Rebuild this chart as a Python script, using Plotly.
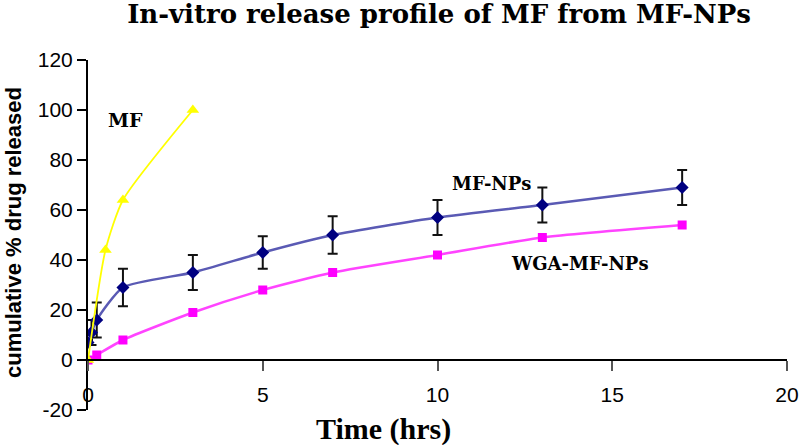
import plotly.graph_objects as go

# ---- data ----
mf_time = [0, 0.5, 1, 3]
mf_release = [0, 44, 64, 100]

np_time = [0, 0.1, 0.25, 1, 3, 5, 7, 10, 13, 17]
np_release = [7, 11, 16, 29, 35, 43, 50, 57, 62, 69]
np_error = [1, 5, 7, 7.5, 7, 6.5, 7.5, 7, 7, 7]

wga_time = [0, 0.25, 1, 3, 5, 7, 10, 13, 17]
wga_release = [0, 2, 8, 19, 28, 35, 42, 49, 54]

x_ticks = [0, 5, 10, 15, 20]
y_ticks = [-20, 0, 20, 40, 60, 80, 100, 120]

W, H = 799, 445
L, R, T, B = 88, 12, 60, 35

fig = go.Figure()

fig.add_trace(go.Scatter(
    x=wga_time, y=wga_release, mode="lines+markers", name="WGA-MF-NPs",
    line=dict(color="#ff44ff", width=2.5, shape="spline", smoothing=0.6),
    marker=dict(symbol="square", size=9, color="#ff00ff"),
))
fig.add_trace(go.Scatter(
    x=np_time, y=np_release, mode="lines+markers", name="MF-NPs",
    line=dict(color="#5a5ab4", width=2.5, shape="spline", smoothing=0.6),
    marker=dict(symbol="diamond", size=10, color="#000080"),
    error_y=dict(type="data", array=np_error, visible=True, color="#111111", thickness=2, width=5),
))
fig.add_trace(go.Scatter(
    x=mf_time, y=mf_release, mode="lines+markers", name="MF",
    line=dict(color="#ffff00", width=1.8, shape="spline", smoothing=0.6),
    marker=dict(symbol="triangle-up", size=11, color="#ffff00"),
))

serif_lbl = "DejaVu Serif"
fig.update_layout(
    width=W, height=H,
    margin=dict(l=L, r=R, t=T, b=B, autoexpand=False),
    paper_bgcolor="white", plot_bgcolor="white",
    showlegend=False,
    title=dict(
        text="<b>In-vitro release profile of MF from MF-NPs</b>",
        font=dict(family="DejaVu Serif", size=26, color="black"),
        xref="container", yref="container", x=439 / W, y=1 - 14 / H,
        xanchor="center", yanchor="middle", automargin=False,
    ),
    xaxis=dict(
        range=[0, 20], tickvals=x_ticks, ticktext=[str(v) for v in x_ticks],
        anchor="free", position=20 / 140, automargin=False,
        showline=True, linecolor="black", linewidth=2,
        ticks="outside", ticklen=10, tickwidth=2, tickcolor="#555555",
        ticklabelstandoff=6, ticklabeloverflow="allow",
        tickfont=dict(family="Liberation Sans", size=21, color="black"),
        showgrid=False, zeroline=False,
    ),
    yaxis=dict(
        range=[-20, 120], tickvals=y_ticks, ticktext=[str(v) for v in y_ticks],
        automargin=False,
        showline=True, linecolor="black", linewidth=2,
        ticks="outside", ticklen=9, tickwidth=2, tickcolor="black",
        tickfont=dict(family="Liberation Sans", size=21, color="black"),
        showgrid=False, zeroline=False,
    ),
    annotations=[
        dict(text="<b>Time (hrs)</b>", xref="paper", yref="paper",
             x=(383 - L) / (W - L - R), y=-(429 - (H - B)) / (H - T - B),
             xanchor="center", yanchor="middle", showarrow=False,
             font=dict(family="Liberation Serif", size=30, color="black")),
        dict(text="<b>cumulative % drug released</b>", xref="paper", yref="paper",
             x=(13 - L) / (W - L - R), y=((H - B) - 233) / (H - T - B), textangle=-90,
             xanchor="center", yanchor="middle", showarrow=False,
             font=dict(family="Liberation Sans", size=22, color="black")),
        dict(text="<b>MF</b>", x=1.08, y=96, showarrow=False,
             xanchor="center", yanchor="middle",
             font=dict(family=serif_lbl, size=19, color="black")),
        dict(text="<b>MF-NPs</b>", x=11.56, y=70.8, showarrow=False,
             xanchor="center", yanchor="middle",
             font=dict(family=serif_lbl, size=18, color="black")),
        dict(text="<b>WGA-MF-NPs</b>", x=14.09, y=38.8, showarrow=False,
             xanchor="center", yanchor="middle",
             font=dict(family=serif_lbl, size=18, color="black")),
    ],
)

fig.write_html("out.html", config={"displayModeBar": False},
               post_script="document.body.style.margin='0';")
